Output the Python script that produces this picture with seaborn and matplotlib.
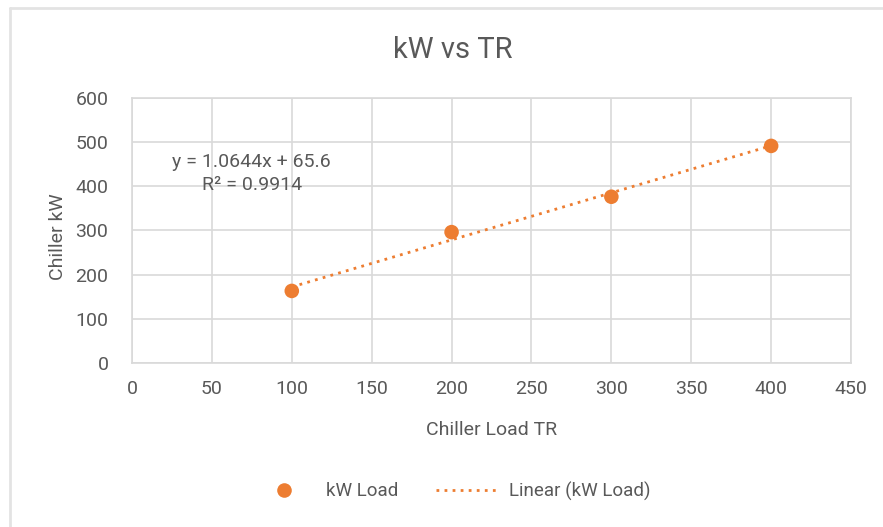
import matplotlib
matplotlib.use("Agg")
import matplotlib.pyplot as plt
from matplotlib.lines import Line2D
import numpy as np
import pandas as pd
import seaborn as sns

# Chiller test data
load_tr = [100, 200, 300, 400]
chiller_kw = [163, 296, 376, 491]

# Linear trendline reported for the series
trend_slope = 1.0644
trend_intercept = 65.6
trend_r2 = 0.9914

x_ticks = [0, 50, 100, 150, 200, 250, 300, 350, 400, 450]
y_ticks = [0, 100, 200, 300, 400, 500, 600]

ORANGE = "#ED7D31"
GRID = "#D9D9D9"
TEXT = "#595959"

sns.set_theme(style="white")
plt.rcParams["font.family"] = ["Roboto", "DejaVu Sans"]

df = pd.DataFrame({"Chiller Load TR": load_tr, "Chiller kW": chiller_kw})

fig = plt.figure(figsize=(8.83, 5.27), dpi=100)
ax = fig.add_axes([0.1495, 0.3112, 0.8143, 0.5034])

sns.scatterplot(data=df, x="Chiller Load TR", y="Chiller kW", ax=ax,
                color=ORANGE, s=110, edgecolor="none", zorder=4)

trend_x = np.array([min(load_tr), max(load_tr)])
trend_y = trend_slope * trend_x + trend_intercept
sns.lineplot(x=trend_x, y=trend_y, ax=ax, color=ORANGE, lw=2.0,
             linestyle=(0, (1, 1.9)), zorder=3)

ax.set_xlim(0, 450)
ax.set_ylim(0, 600)
ax.set_xticks(x_ticks)
ax.set_yticks(y_ticks)
ax.grid(True, color=GRID, lw=1.2)
ax.set_axisbelow(True)
for side in ax.spines.values():
    side.set_color(GRID)
    side.set_linewidth(1.2)
ax.tick_params(axis="both", length=0, labelsize=14, labelcolor=TEXT)
ax.tick_params(axis="y", pad=17)
ax.tick_params(axis="x", pad=12)

ax.set_xlabel("Chiller Load TR", fontsize=14, color=TEXT, labelpad=17)
ax.set_ylabel("Chiller kW", fontsize=14, color=TEXT)
ax.yaxis.set_label_coords(-0.09, 0.475)

fig.text(0.513, 0.905, "kW vs TR", ha="center", va="center",
         fontsize=21, color=TEXT)

ax.text(75, 429,
        f"y = {trend_slope:.4f}x + {trend_intercept}\nR\u00b2 = {trend_r2:.4f}",
        ha="center", va="center", fontsize=14, color=TEXT,
        linespacing=1.35, multialignment="center")

handles = [
    Line2D([], [], marker="o", linestyle="none", color=ORANGE,
           markersize=10.5, markeredgewidth=0),
    Line2D([], [], color=ORANGE, lw=2.0, linestyle=(0, (1, 1.9))),
]
fig.legend(handles, ["kW Load", "Linear (kW Load)"], loc="center",
           bbox_to_anchor=(452 / 883, 1 - 491 / 527), ncol=2,
           frameon=False, fontsize=13.5, labelcolor=TEXT,
           handlelength=3.3, handletextpad=0.6, columnspacing=2.0)

# chart frame (left and top edges)
fig.add_artist(Line2D([10 / 883, 10 / 883], [0, 1 - 8 / 527],
                      transform=fig.transFigure, color="#E3E3E3", lw=2))
fig.add_artist(Line2D([10 / 883, 1], [1 - 8 / 527, 1 - 8 / 527],
                      transform=fig.transFigure, color="#E3E3E3", lw=2))

fig.savefig("out.png", dpi=100, facecolor="white")
